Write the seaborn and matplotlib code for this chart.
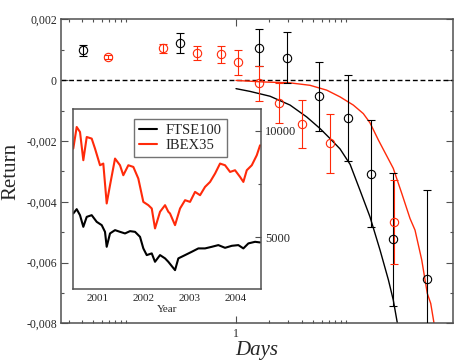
import numpy as np
import matplotlib
matplotlib.use('Agg')
import matplotlib.pyplot as plt
import seaborn as sns
from matplotlib.ticker import FixedLocator, FuncFormatter, NullFormatter

# --- main panel data (returns in units of 1e-3) ---
ftse_days = [0.0404, 0.31, 1.63, 2.89, 5.72, 10.4, 16.8, 26.9, 54.2]
ftse_ret = [0.98, 1.22, 1.07, 0.74, -0.53, -1.25, -3.07, -5.23, -6.53]
ftse_err = [0.18, 0.34, 0.60, 0.85, 1.13, 1.42, 1.75, 2.18, 2.93]

ibex_days = [0.068, 0.216, 0.445, 0.726, 1.05, 1.63, 2.44, 3.95, 7.15, 27.3]
ibex_ret = [0.76, 1.04, 0.89, 0.85, 0.58, -0.10, -0.75, -1.44, -2.08, -4.66]
ibex_err = [0.08, 0.14, 0.22, 0.28, 0.42, 0.58, 0.67, 0.80, 0.96, 1.37]

ftse_fit_days = [1.0, 1.34, 2.04, 3.10, 4.39, 5.80, 7.16, 8.82, 10.9, 13.4,
                 16.5, 20.4, 24.3, 26.9, 29.3, 30.5]
ftse_fit_ret = [-0.28, -0.37, -0.53, -0.82, -1.21, -1.59, -1.92, -2.26, -2.77, -3.62,
                -4.49, -5.59, -6.57, -7.23, -7.99, -8.4]

ibex_fit_days = [1.0, 1.77, 3.10, 4.71, 6.68, 8.82, 11.65, 14.36, 16.5, 19.7,
                 26.9, 32.1, 38.2, 42.4, 48.8, 54.8, 58.9, 63.1, 65.0]
ibex_fit_ret = [-0.01, -0.06, -0.09, -0.17, -0.33, -0.55, -0.82, -1.10, -1.40, -1.97,
                -2.90, -3.72, -4.55, -4.93, -5.91, -7.01, -7.34, -7.99, -8.3]

# --- inset data (index levels) ---
ibex_year = [2000.478, 2000.552, 2000.624, 2000.696, 2000.770, 2000.878, 2000.950,
             2001.059, 2001.130, 2001.204, 2001.276, 2001.385, 2001.493, 2001.565,
             2001.674, 2001.783, 2001.891, 2002.000, 2002.109, 2002.183, 2002.254,
             2002.363, 2002.472, 2002.543, 2002.580, 2002.689, 2002.798, 2002.907,
             2003.015, 2003.124, 2003.233, 2003.341, 2003.450, 2003.559, 2003.667,
             2003.776, 2003.885, 2003.993, 2004.102, 2004.174, 2004.248, 2004.357,
             2004.465, 2004.537]
ibex_level = [9157, 10170, 9935, 8610, 9700, 9625, 9156,
              8374, 8453, 6580, 7437, 8688, 8374, 7905,
              8374, 8295, 7750, 6654, 6500, 6345, 5408,
              6190, 6500, 6190, 6110, 5562, 6345, 6734,
              6654, 7123, 6968, 7357, 7591, 7985, 8453,
              8374, 8060, 8140, 7826, 7591, 8140, 8374,
              8843, 9311]

ftse_year = [2000.478, 2000.552, 2000.624, 2000.696, 2000.770, 2000.878, 2000.987,
             2001.096, 2001.167, 2001.204, 2001.276, 2001.385, 2001.493, 2001.602,
             2001.711, 2001.820, 2001.928, 2002.000, 2002.074, 2002.183, 2002.254,
             2002.363, 2002.472, 2002.543, 2002.689, 2002.761, 2002.907, 2003.052,
             2003.196, 2003.341, 2003.487, 2003.630, 2003.776, 2003.922, 2004.065,
             2004.174, 2004.283, 2004.428, 2004.537]
ftse_level = [6110, 6312, 6030, 5483, 5951, 6030, 5717,
              5562, 5248, 4545, 5173, 5328, 5248, 5173,
              5281, 5248, 5014, 4470, 4156, 4236, 3842,
              4156, 4002, 3842, 3450, 4002, 4156, 4311,
              4470, 4470, 4545, 4625, 4498, 4592, 4625,
              4470, 4705, 4780, 4750]

RED = '#ff2a0a'
SPINE = '#505050'

sns.set_style('ticks')
plt.rcParams['font.family'] = ['Liberation Serif', 'DejaVu Serif']

fig = plt.figure(figsize=(4.63, 3.64), dpi=100)
ax = fig.add_axes([0.1318, 0.1113, 0.8466, 0.8357])

# zero line
ax.axhline(0, color='black', lw=1.0, ls=(0, (3.5, 2)), zorder=1)

# fitted curves
sns.lineplot(x=ftse_fit_days, y=np.array(ftse_fit_ret) * 1e-3, ax=ax, color='black',
             lw=1.0, sort=False, estimator=None, legend=False)
sns.lineplot(x=ibex_fit_days, y=np.array(ibex_fit_ret) * 1e-3, ax=ax, color=RED,
             lw=1.0, sort=False, estimator=None, legend=False)

# data with error bars
ax.errorbar(ftse_days, np.array(ftse_ret) * 1e-3, yerr=np.array(ftse_err) * 1e-3,
            fmt='o', ms=6, mfc='none', mec='black', mew=0.8, ecolor='black',
            elinewidth=0.8, capsize=3, capthick=0.8, zorder=3)
ax.errorbar(ibex_days, np.array(ibex_ret) * 1e-3, yerr=np.array(ibex_err) * 1e-3,
            fmt='o', ms=6, mfc='none', mec=RED, mew=0.8, ecolor=RED,
            elinewidth=0.8, capsize=3, capthick=0.8, zorder=3)

ax.set_xscale('log')
ax.set_xlim(0.02565, 93.9)
ax.set_ylim(-0.008, 0.002)

ax.xaxis.set_major_locator(FixedLocator([1]))
ax.xaxis.set_major_formatter(FuncFormatter(lambda v, p: '1'))
ax.xaxis.set_minor_locator(FixedLocator([0.03, 0.04, 0.05, 0.06, 0.07, 0.08, 0.09, 0.1,
                                         2, 3, 4, 5, 6, 7, 8, 9, 10]))
ax.xaxis.set_minor_formatter(NullFormatter())
ax.yaxis.set_major_locator(FixedLocator([-0.008, -0.006, -0.004, -0.002, 0, 0.002]))
ax.yaxis.set_minor_locator(FixedLocator([-0.007, -0.005, -0.003, -0.001, 0.001]))
ax.yaxis.set_major_formatter(FuncFormatter(
    lambda v, p: '0' if abs(v) < 1e-9 else f'{v:.3f}'.replace('.', ',')))

ax.tick_params(which='both', direction='in', top=True, right=True,
               labelsize=8.5, width=0.8, color=SPINE, pad=3)
ax.tick_params(which='major', length=5)
ax.tick_params(which='minor', length=2.5)
for s in ax.spines.values():
    s.set_color(SPINE)
    s.set_linewidth(1.1)

ax.set_xlabel('Days', fontsize=15, style='italic', labelpad=1)
ax.set_ylabel('Return', fontsize=15, labelpad=4)

# --- inset ---
ins = fig.add_axes([0.157, 0.2052, 0.406, 0.4945])
sns.lineplot(x=ftse_year, y=ftse_level, ax=ins, color='black', lw=1.5,
             sort=False, estimator=None, label='FTSE100')
sns.lineplot(x=ibex_year, y=ibex_level, ax=ins, color=RED, lw=1.5,
             sort=False, estimator=None, label='IBEX35')
ins.set_xlim(2000.465, 2004.55)
ins.set_ylim(2550, 11000)
ins.set_xticks([2001, 2002, 2003, 2004])
ins.set_xticklabels(['2001', '2002', '2003', '2004'])
ins.yaxis.tick_right()
ins.yaxis.set_major_locator(FixedLocator([5000, 10000]))
ins.yaxis.set_minor_locator(FixedLocator([7500]))
ins.tick_params(axis='x', length=0, labelsize=8, pad=3.5)
ins.tick_params(axis='y', which='both', direction='in', labelsize=9,
                width=0.8, color=SPINE, pad=3)
ins.tick_params(axis='y', which='major', length=4)
ins.tick_params(axis='y', which='minor', length=2.5)
for s in ins.spines.values():
    s.set_visible(True)
    s.set_color(SPINE)
    s.set_linewidth(1.1)
ins.set_xlabel('Year', fontsize=8, labelpad=1)
ins.set_ylabel('')

leg = ins.legend(loc='upper left', bbox_to_anchor=(0.328, 0.946), borderaxespad=0,
                 fontsize=10.5, frameon=True, fancybox=False, handlelength=1.2,
                 handletextpad=0.6, labelspacing=0.1, borderpad=0.35)
leg.get_frame().set_edgecolor(SPINE)
leg.get_frame().set_linewidth(1.0)
for line in leg.get_lines():
    line.set_linewidth(1.5)

fig.savefig('out.png', dpi=100)
